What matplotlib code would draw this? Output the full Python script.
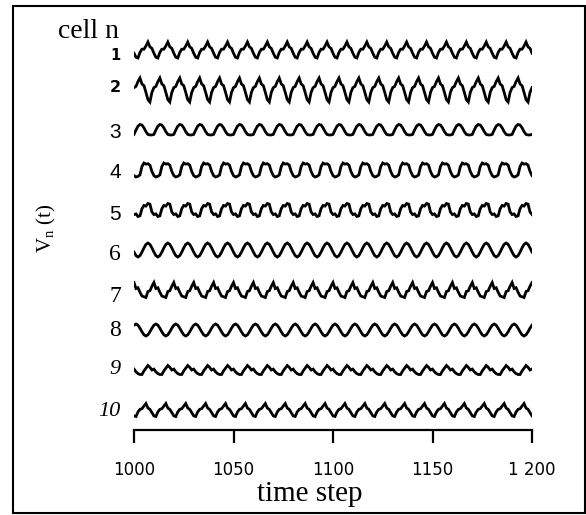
import numpy as np
import matplotlib
matplotlib.use("Agg")
import matplotlib.pyplot as plt
from matplotlib.patches import Rectangle

# Membrane potential traces V_n(t) for a ring of 10 cells, time steps 1000..1200.
# Each cell settles into a periodic orbit of 10 time steps; one cycle per cell
# (normalised level 0..1), its peak-to-peak swing and its phase lag in steps.
time_start, time_end = 1000, 1200
period = 10

cycle_1 = [0.00, 0.35, 0.55, 0.55, 0.75, 1.00, 0.70, 0.60, 0.30, 0.05]
cycle_2 = [0.00, 0.40, 0.60, 0.65, 0.85, 1.00, 0.75, 0.68, 0.40, 0.10]
cycle_3 = [0.05, 0.10, 0.50, 0.85, 1.00, 0.95, 0.70, 0.35, 0.10, 0.05]
cycle_4 = [0.05, 0.15, 0.75, 1.00, 0.92, 0.95, 0.85, 0.40, 0.10, 0.00]
cycle_5 = [0.00, 0.05, 0.60, 0.85, 0.80, 1.00, 0.95, 0.35, 0.15, 0.20]
cycle_6 = [0.00, 0.10, 0.35, 0.65, 0.90, 1.00, 0.90, 0.65, 0.35, 0.10]
cycle_7 = [0.00, 0.40, 0.45, 0.75, 1.00, 0.60, 0.65, 0.35, 0.10, 0.05]
cycle_8 = [0.00, 0.10, 0.35, 0.65, 0.90, 1.00, 0.90, 0.65, 0.35, 0.10]
cycle_9 = [0.00, 0.40, 0.70, 1.00, 0.80, 0.50, 0.60, 0.30, 0.10, 0.00]
cycle_10 = [0.00, 0.35, 0.55, 0.60, 0.80, 1.00, 0.65, 0.55, 0.30, 0.05]

cycles = [cycle_1, cycle_2, cycle_3, cycle_4, cycle_5,
          cycle_6, cycle_7, cycle_8, cycle_9, cycle_10]
swing = [16, 24, 11, 14, 13, 14, 15, 12, 9, 13]
lag = [2, 8, 9, 2, 2, 2, 6, 6, 4, 1]

cell_labels = ["1", "2", "3", "4", "5", "6", "7", "8", "9", "10"]
tick_values = [1000, 1050, 1100, 1150, 1200]
tick_labels = ["1000", "1050", "1100", "1150", "1 200"]

# label fonts: the cell numbers were lettered in several hands
label_style = [
    dict(family="DejaVu Sans", weight="bold", size=10.5),
    dict(family="DejaVu Sans", weight="bold", size=11.5),
    dict(family="Liberation Sans", weight="normal", size=15),
    dict(family="Liberation Sans", weight="normal", size=15),
    dict(family="Liberation Sans", weight="normal", size=15),
    dict(family="Liberation Serif", weight="normal", size=17),
    dict(family="Liberation Serif", weight="normal", size=17),
    dict(family="Liberation Serif", weight="normal", size=17),
    dict(family="Liberation Serif", weight="normal", size=16, style="italic"),
    dict(family="Liberation Serif", weight="normal", size=16, style="italic"),
]
# vertical nudge of each number relative to its trace (pixels, + = down)
label_nudge = [6, -2, 2, 2, 4, 5, 6, 1, -1, 2]

W, H = 586, 515
fig = plt.figure(figsize=(W / 100, H / 100), dpi=100)
fig.patch.set_facecolor("white")

# frame around the whole panel
fig.patches.append(Rectangle((13 / W, 2 / H), 572 / W, 507 / H,
                             transform=fig.transFigure, fill=False,
                             edgecolor="black", linewidth=1.5))

ax = fig.add_axes([134 / W, 85 / H, 398 / W, 400 / H])
t = np.arange(time_start, time_end + 1)
n_steps = len(t)
spacing = 40
for k, (cyc, amp, sh) in enumerate(zip(cycles, swing, lag)):
    base = 20 + spacing * (len(cycles) - 1 - k)
    wave = np.roll(np.tile(cyc, n_steps // period + 2), sh)[:n_steps]
    v = base + amp * (np.asarray(wave) - 0.5)
    ax.plot(t, v, color="black", linewidth=2.0, solid_joinstyle="miter")
    ax.text(-0.033, base - label_nudge[k], cell_labels[k],
            transform=ax.get_yaxis_transform(),
            ha="right", va="center", color="black", **label_style[k])

ax.set_xlim(time_start, time_end)
ax.set_ylim(0, 400)
for side in ["left", "top", "right"]:
    ax.spines[side].set_visible(False)
ax.spines["bottom"].set_linewidth(1.6)
ax.set_yticks([])
ax.set_xticks(tick_values)
ax.set_xticklabels(tick_labels, fontsize=12, family="DejaVu Sans")
ax.tick_params(axis="x", direction="out", length=9, width=1.6, pad=13)

fig.text(310 / W, (H - 501) / H, "time step", family="Liberation Serif",
         fontsize=21, ha="center", va="baseline")
fig.text(58 / W, (H - 38) / H, "cell n", family="Liberation Serif",
         fontsize=20, ha="left", va="baseline")
fig.text(46 / W, (H - 228) / H, r"V$_\mathregular{n}$ (t)",
         family="Liberation Serif", fontsize=15, rotation=90,
         ha="center", va="center")

fig.savefig("out.png", dpi=100, facecolor="white")
